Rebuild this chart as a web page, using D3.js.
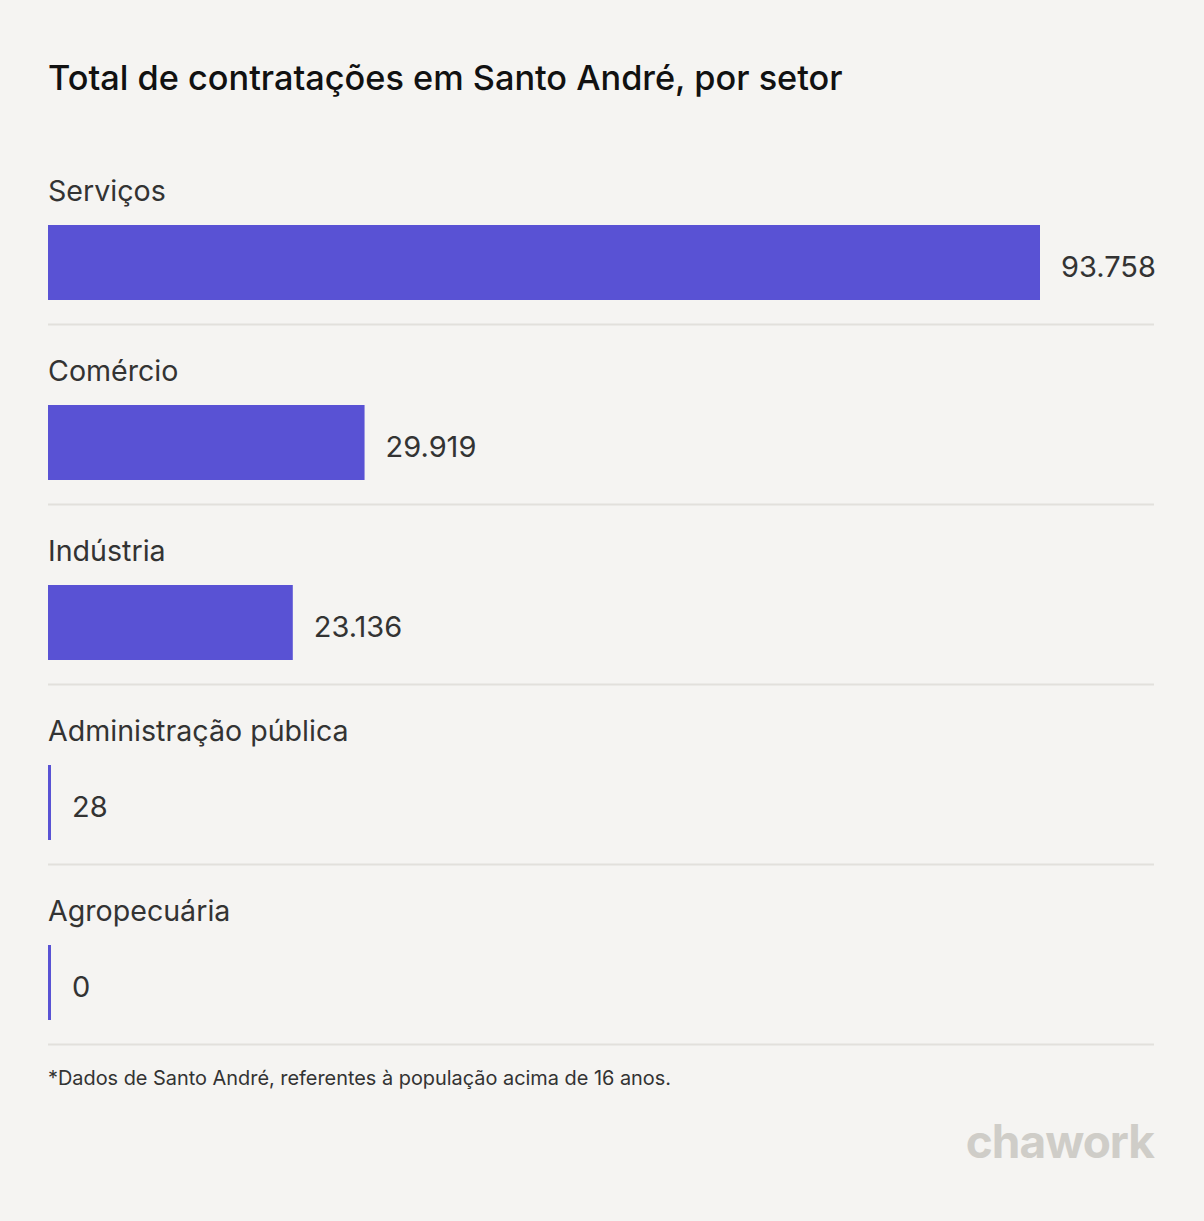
<!DOCTYPE html>
<html>
<head>
<meta charset="utf-8">
<script src="https://cdn.jsdelivr.net/npm/d3@7"></script>
<style>
  html, body { margin: 0; padding: 0; background: #f5f4f2; }
  svg { display: block; font-family: Inter, "Noto Sans", sans-serif; }
</style>
</head>
<body>
<svg></svg>
<script>
// chart data
var sectors = ["Serviços", "Comércio", "Indústria", "Administração pública", "Agropecuária"]
var hires = [93758, 29919, 23136, 28, 0]
var title = "Total de contratações em Santo André, por setor"
var footnote = "*Dados de Santo André, referentes à população acima de 16 anos."

var width = 1204
var height = 1221
var svg = d3.select("svg")
  .attr("width", width)
  .attr("height", height)

svg.append("rect")
  .attr("width", width)
  .attr("height", height)
  .attr("fill", "#f5f4f2")

var left = 48
var right = 1154
var chartTop = 135
var rowH = 180

// horizontal scale, bar ends at 1040 for the biggest value
var x = d3.scaleLinear()
  .domain([0, d3.max(hires)])
  .range([0, 992])

var y = d3.scaleBand()
  .domain(sectors)
  .range([chartTop, chartTop + rowH * sectors.length])

var fmt = d3.formatLocale({ decimal: ",", thousands: ".", grouping: [3], currency: ["R$", ""] }).format(",d")

// title
svg.append("text")
  .attr("x", left)
  .attr("y", 90)
  .attr("fill", "#111")
  .attr("font-size", 34.3)
  .attr("font-weight", 500)
  .text(title)

var rows = svg.append("g")
  .selectAll("g")
  .data(sectors)
  .enter()
  .append("g")
  .attr("transform", d => "translate(0," + y(d) + ")")

// sector label
rows.append("text")
  .attr("x", left)
  .attr("y", 66)
  .attr("fill", "#333")
  .attr("font-size", 28.6)
  .text(d => d)

// bars, tiny values still get a thin stub
rows.append("rect")
  .attr("x", left)
  .attr("y", 90)
  .attr("height", 75)
  .attr("width", (d, i) => Math.max(3, x(hires[i])))
  .attr("fill", "#5952d4")

rows.append("text")
  .attr("x", (d, i) => left + Math.max(3, x(hires[i])) + 21)
  .attr("y", 142)
  .attr("fill", "#333")
  .attr("font-size", 29)
  .text((d, i) => fmt(hires[i]))

// separator under each row
rows.append("line")
  .attr("x1", left)
  .attr("x2", right)
  .attr("y1", 189.5)
  .attr("y2", 189.5)
  .attr("stroke", "#e2e0dc")
  .attr("stroke-width", 2)

svg.append("text")
  .attr("x", left)
  .attr("y", 1085)
  .attr("fill", "#333")
  .attr("font-size", 19.9)
  .text(footnote)

// logo
svg.append("text")
  .attr("x", right)
  .attr("y", 1158)
  .attr("text-anchor", "end")
  .attr("fill", "#cfcdc8")
  .attr("font-size", 46)
  .attr("font-weight", 700)
  .attr("letter-spacing", -1)
  .text("chawork")
</script>
</body>
</html>
